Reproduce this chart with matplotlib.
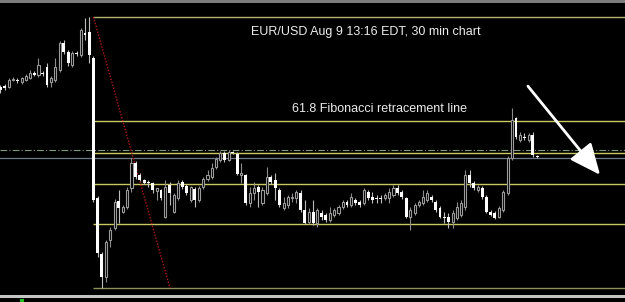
import matplotlib
matplotlib.use("Agg")
import matplotlib.pyplot as plt
from matplotlib.patches import Rectangle, FancyArrowPatch
import numpy as np

# ---- data: 30-min candles (price levels, arbitrary units) ----
opens = [213, 214, 213, 220, 220, 218, 220, 222, 227, 225, 227, 233, 218, 220, 230, 257, 248, 235, 247, 245, 267, 268,
         242, 102, 46, 23, 60, 72, 99, 88, 93, 112, 137, 125, 120, 118, 117, 109, 110, 83, 115, 88, 102, 118, 114, 100,
         111, 100, 113, 121, 123, 133, 140, 147, 140, 148, 146, 125, 125, 97, 107, 113, 97, 107, 123, 120, 110, 92, 95,
         102, 102, 107, 90, 78, 88, 77, 87, 85, 80, 85, 87, 93, 98, 95, 100, 98, 97, 108, 103, 102, 102, 102, 102, 105,
         112, 108, 102, 83, 87, 95, 97, 100, 103, 98, 92, 83, 83, 78, 82, 85, 93, 125, 117, 110, 112, 103, 88, 87, 83, 90,
         107, 142, 182, 160, 163, 160, 165, 144]
highs = [215, 216, 222, 223, 222, 223, 226, 230, 229, 242, 229, 237, 224, 242, 259, 260, 250, 249, 249, 272, 282, 283,
         244, 104, 48, 60, 73, 101, 110, 95, 113, 142, 139, 127, 121, 120, 118, 112, 111, 120, 118, 107, 120, 120, 116,
         114, 113, 114, 123, 130, 137, 143, 149, 149, 150, 149, 148, 137, 126, 113, 118, 115, 113, 133, 125, 127, 112,
         103, 105, 107, 110, 110, 100, 92, 100, 92, 90, 87, 93, 92, 95, 100, 100, 107, 102, 100, 112, 110, 108, 105, 105,
         107, 112, 115, 115, 110, 103, 93, 97, 100, 110, 110, 105, 100, 94, 88, 87, 90, 98, 100, 130, 130, 119, 115, 114,
         105, 90, 89, 94, 110, 144, 192, 183, 168, 167, 167, 168, 145]
lows = [207, 210, 212, 219, 217, 216, 219, 221, 224, 223, 224, 213, 213, 218, 228, 246, 234, 233, 244, 243, 260, 237,
        98, 43, 12, 18, 53, 70, 77, 87, 91, 108, 121, 119, 116, 113, 107, 100, 100, 82, 95, 87, 100, 111, 105, 98, 93,
        98, 111, 119, 121, 131, 138, 138, 139, 146, 125, 117, 95, 93, 100, 93, 95, 105, 116, 100, 93, 90, 92, 98, 97, 88,
        76, 76, 75, 73, 80, 78, 78, 83, 85, 91, 93, 93, 95, 93, 95, 100, 97, 97, 97, 100, 97, 103, 105, 101, 82, 70, 85,
        93, 95, 98, 98, 88, 82, 77, 72, 72, 80, 83, 90, 113, 110, 108, 101, 87, 84, 81, 82, 88, 105, 140, 161, 158, 160,
        158, 143, 142]
closes = [210, 212, 220, 221, 219, 222, 224, 227, 225, 235, 226, 215, 222, 233, 257, 248, 237, 247, 246, 270, 265, 245,
          100, 47, 23, 58, 70, 98, 92, 93, 110, 137, 123, 120, 117, 117, 110, 112, 102, 113, 107, 105, 117, 113, 107,
          113, 100, 112, 121, 125, 132, 141, 147, 140, 148, 147, 126, 127, 97, 107, 112, 108, 110, 123, 118, 112, 95, 97,
          103, 103, 108, 90, 77, 88, 77, 90, 83, 80, 87, 90, 93, 98, 95, 103, 97, 95, 110, 102, 100, 101, 101, 105, 108,
          112, 107, 103, 83, 90, 95, 98, 103, 107, 100, 90, 83, 82, 78, 87, 93, 97, 125, 117, 112, 113, 103, 88, 85, 82,
          92, 108, 142, 180, 163, 165, 162, 165, 145, 143]

fib_ratios = [0.0, 0.382, 0.5, 0.618, 0.764, 1.0]
fib_start = 22          # candle where the retracement grid begins
trend_x = [22, 40.1]     # red dotted trendline (candle index)
bid_level = 142
aux_level = 150
arrow_from = (124.4, 216)
arrow_to = (142.3, 123)

title_text = "EUR/USD Aug 9 13:16 EDT, 30 min chart"
fib_text = "61.8 Fibonacci retracement line"

# ---- figure ----
W, H = 625, 302
fig = plt.figure(figsize=(W / 100, H / 100), dpi=100, facecolor="black")
ax = fig.add_axes([0, 0, 1, 1])
ax.set_facecolor("black")
x0, step = 0.46, 4.226
ax.set_xlim(-x0 / step, (W - x0) / step)
ax.set_ylim(-2, 300)
ax.axis("off")

n = len(opens)
x = np.arange(n)
o = np.array(opens, float); c = np.array(closes, float)
h = np.array(highs, float); l = np.array(lows, float)
bull = c > o

# wicks
ax.vlines(x[bull], l[bull], h[bull], color="#8c8c8c", lw=0.8, zorder=2)
ax.vlines(x[~bull], l[~bull], h[~bull], color="#bdbdbd", lw=0.8, zorder=2)
# bodies
bot = np.minimum(o, c)
ht = np.maximum(np.abs(c - o), 1.0)
ax.bar(x[bull], ht[bull], bottom=bot[bull], width=0.5, color="black",
       edgecolor="#9a9a9a", linewidth=0.8, zorder=3)
ax.bar(x[~bull], ht[~bull], bottom=bot[~bull], width=0.68, color="white",
       edgecolor="white", linewidth=0, zorder=3)

# fibonacci levels
hi, lo = h.max(), l.min()
xmax = ax.get_xlim()[1]
for r in fib_ratios:
    lvl = hi - r * (hi - lo)
    col = "#8e8e58" if r == 1.0 else ("#b4b470" if r == 0.0 else "#c9c964")
    ax.hlines(lvl, fib_start - 0.1, xmax, color=col, lw=1.0, zorder=1)

# auxiliary and bid lines
ax.axhline(aux_level, color="#7d9a7d", lw=0.8, ls=(0, (6, 2, 1, 2)), zorder=1)
ax.axhline(bid_level, color="#6f7888", lw=0.9, zorder=1)

# red dotted trendline
ax.plot(trend_x, [hi, lo], color="#b01818", lw=1.0, ls=(0, (1, 1.2)), zorder=1)

# arrow
arr = FancyArrowPatch(arrow_from, arrow_to, arrowstyle="-|>,head_length=0.95,head_width=0.42",
                      mutation_scale=20, color="white", lw=2.0, zorder=5)
ax.add_patch(arr)

# texts
ax.text(0.586, 1 - 32 / H, title_text, transform=ax.transAxes, ha="center", va="center",
        color="#ececec", fontsize=9, family="Liberation Sans")
ax.text(0.608, 1 - 109 / H, fib_text, transform=ax.transAxes, ha="center", va="center",
        color="#ececec", fontsize=9, family="Liberation Sans")

# frame bands
fig.add_artist(Rectangle((0, 1 - 2.5 / H), 1, 2.5 / H, transform=fig.transFigure,
                         color="#7c7c7c", lw=0))
fig.add_artist(Rectangle((0, 1 - 298 / H), 1, 3 / H, transform=fig.transFigure,
                         color="#c4c4c4", lw=0))
fig.add_artist(Rectangle((20 / W, 0), 3.5 / W, 3 / H, transform=fig.transFigure,
                         color="#20c020", lw=0))

fig.savefig("out.png", dpi=100, facecolor="black")
